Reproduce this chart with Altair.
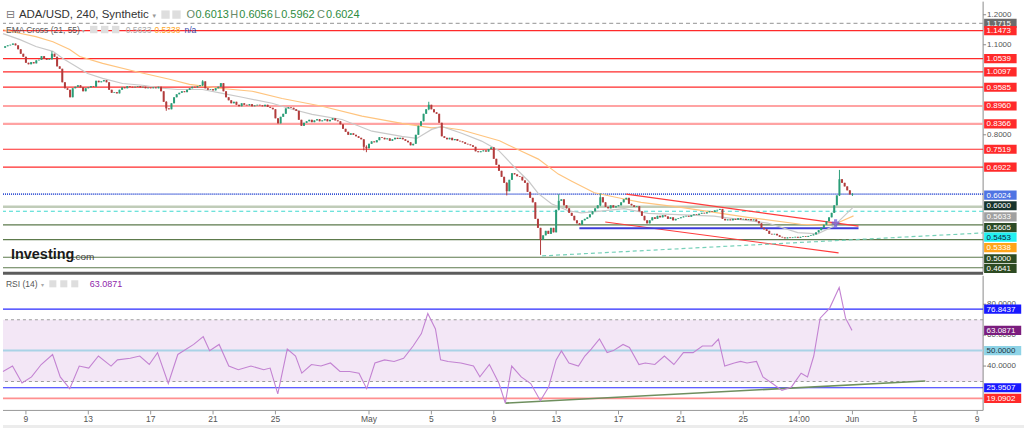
import altair as alt
import pandas as pd
import numpy as np

# ============================ DATA ============================
# ADA/USD 4-hour closes, first candle 2022-04-07 16:00, last 2022-06-01 00:00
first_open = 1.090
closes = [
    1.095, 1.098,                                   # Apr 7 (16h, 20h)
    1.100, 1.104, 1.098, 1.085, 1.070, 1.060,       # Apr 8
    1.040, 1.035, 1.042, 1.038, 1.048, 1.050,       # Apr 9
    1.062, 1.055, 1.050, 1.052, 1.070, 1.060,       # Apr 10
    1.028, 1.020, 0.975, 0.955, 0.950, 0.925,       # Apr 11
    0.955, 0.960, 0.965, 0.958, 0.945, 0.955,       # Apr 12
    0.958, 0.962, 0.960, 0.980, 0.975, 0.978,       # Apr 13
    0.982, 0.975, 0.950, 0.940, 0.942, 0.938,       # Apr 14
    0.950, 0.958, 0.955, 0.962, 0.960, 0.958,       # Apr 15
    0.960, 0.962, 0.958, 0.960, 0.955, 0.957,       # Apr 16
    0.955, 0.958, 0.955, 0.960, 0.945, 0.910,       # Apr 17
    0.888, 0.885, 0.905, 0.925, 0.935, 0.940,       # Apr 18
    0.945, 0.942, 0.950, 0.955, 0.960, 0.958,       # Apr 19
    0.962, 0.965, 0.978, 0.955, 0.950, 0.952,       # Apr 20
    0.948, 0.955, 0.960, 0.972, 0.945, 0.925,       # Apr 21
    0.915, 0.905, 0.910, 0.900, 0.895, 0.905,       # Apr 22
    0.900, 0.898, 0.902, 0.895, 0.898, 0.900,       # Apr 23
    0.898, 0.895, 0.900, 0.893, 0.890, 0.885,       # Apr 24
    0.855, 0.838, 0.860, 0.870, 0.888, 0.892,       # Apr 25
    0.890, 0.885, 0.880, 0.850, 0.830, 0.840,       # Apr 26
    0.845, 0.850, 0.842, 0.848, 0.852, 0.845,       # Apr 27
    0.848, 0.852, 0.845, 0.850, 0.855, 0.848,       # Apr 28
    0.845, 0.835, 0.820, 0.810, 0.800, 0.805,       # Apr 29
    0.800, 0.795, 0.790, 0.785, 0.760, 0.755,       # Apr 30
    0.770, 0.778, 0.775, 0.782, 0.792, 0.790,       # May 1
    0.785, 0.788, 0.780, 0.785, 0.790, 0.786,       # May 2
    0.790, 0.785, 0.780, 0.775, 0.765, 0.770,       # May 3
    0.800, 0.830, 0.845, 0.870, 0.885, 0.900,       # May 4
    0.885, 0.875, 0.870, 0.840, 0.795, 0.790,       # May 5
    0.785, 0.790, 0.782, 0.786, 0.780, 0.778,       # May 6
    0.775, 0.770, 0.768, 0.765, 0.760, 0.745,       # May 7
    0.742, 0.745, 0.748, 0.744, 0.752, 0.758,       # May 8
    0.720, 0.700, 0.680, 0.660, 0.640, 0.612,       # May 9
    0.650, 0.672, 0.668, 0.662, 0.660, 0.648,       # May 10
    0.640, 0.610, 0.590, 0.575, 0.520, 0.490,       # May 11
    0.450, 0.465, 0.480, 0.470, 0.490, 0.475,       # May 12
    0.550, 0.580, 0.585, 0.565, 0.555, 0.540,       # May 13
    0.530, 0.515, 0.505, 0.500, 0.515, 0.520,       # May 14
    0.525, 0.535, 0.545, 0.555, 0.565, 0.592,       # May 15
    0.575, 0.560, 0.555, 0.565, 0.558, 0.562,       # May 16
    0.565, 0.575, 0.585, 0.590, 0.570, 0.565,       # May 17
    0.560, 0.562, 0.545, 0.530, 0.515, 0.505,       # May 18
    0.515, 0.525, 0.520, 0.530, 0.525, 0.532,       # May 19
    0.528, 0.520, 0.525, 0.515, 0.520, 0.522,       # May 20
    0.525, 0.528, 0.530, 0.527, 0.532, 0.535,       # May 21
    0.533, 0.537, 0.540, 0.538, 0.542, 0.545,       # May 22
    0.543, 0.548, 0.550, 0.553, 0.520, 0.515,       # May 23
    0.518, 0.515, 0.520, 0.517, 0.522, 0.518,       # May 24
    0.520, 0.516, 0.519, 0.515, 0.518, 0.512,       # May 25
    0.505, 0.490, 0.485, 0.480, 0.470, 0.468,       # May 26
    0.470, 0.465, 0.460, 0.458, 0.455, 0.458,       # May 27
    0.456, 0.458, 0.460, 0.457, 0.460, 0.462,       # May 28
    0.460, 0.463, 0.465, 0.468, 0.475, 0.482,       # May 29
    0.490, 0.500, 0.512, 0.525, 0.540, 0.565,       # May 30
    0.598, 0.652, 0.640, 0.628, 0.615, 0.6013,      # May 31
    0.6024,                                         # Jun 1
]
# candles whose wicks stand out: timestamp -> (high, low)
wicks = {
    "2022-04-10 16:00": (1.078, 1.050),
    "2022-04-18 00:00": (0.912, 0.880),
    "2022-04-20 08:00": (0.982, 0.962),
    "2022-04-30 16:00": (0.785, 0.748),
    "2022-04-30 20:00": (0.765, 0.742),
    "2022-05-04 20:00": (0.910, 0.882),
    "2022-05-09 20:00": (0.642, 0.598),
    "2022-05-12 00:00": (0.490, 0.400),
    "2022-05-13 04:00": (0.602, 0.548),
    "2022-05-15 20:00": (0.605, 0.562),
    "2022-05-31 04:00": (0.683, 0.596),
    "2022-06-01 00:00": (0.6056, 0.5962),
}

# EMA lines (days since 2022-04-09 00:00, price)
ema21_t = [-1.47, -0.38, 0.64, 1.73, 2.37, 3.01, 3.96, 4.92, 6.20, 7.48, 8.76, 9.72, 11.32,
           12.60, 13.87, 15.79, 17.07, 18.35, 20.27, 22.19, 24.10, 25.06, 26.02, 26.66,
           27.94, 29.22, 30.31, 31.33, 32.23, 32.86, 33.70, 34.78, 35.61, 36.70, 38.36,
           39.90, 44.12, 47.57, 49.49, 50.77, 51.79, 53.07]
ema21_v = [1.137, 1.117, 1.094, 1.078, 1.054, 1.034, 1.004, 0.988, 0.971, 0.965, 0.955, 0.951, 0.951,
           0.938, 0.925, 0.905, 0.885, 0.868, 0.851, 0.812, 0.795, 0.788, 0.818, 0.828,
           0.805, 0.779, 0.748, 0.692, 0.646, 0.604, 0.570, 0.547, 0.540, 0.545, 0.554,
           0.538, 0.529, 0.506, 0.474, 0.470, 0.495, 0.560]
ema55_t = [-1.47, 0.64, 1.73, 2.81, 3.45, 4.92, 7.03, 9.21, 10.49, 12.40, 14.51, 16.43, 18.99,
           21.55, 24.10, 26.02, 26.66, 27.94, 30.37, 31.78, 32.86, 34.14, 34.97, 36.45,
           38.36, 39.45, 42.01, 46.29, 49.68, 51.15, 52.11, 53.07]
ema55_v = [1.150, 1.127, 1.110, 1.084, 1.061, 1.038, 1.011, 0.985, 0.968, 0.955, 0.945, 0.921, 0.895,
           0.862, 0.838, 0.823, 0.826, 0.816, 0.780, 0.745, 0.719, 0.669, 0.646, 0.607,
           0.586, 0.575, 0.558, 0.525, 0.502, 0.499, 0.508, 0.530]

# RSI (14)
rsi_t = [-1.47, -0.86, -0.25, 0.36, 0.98, 1.71, 2.20, 2.81, 3.42, 4.03, 4.65, 5.46, 5.87, 6.69,
         7.30, 7.91, 8.44, 9.13, 9.74, 10.76, 11.37, 11.78, 12.39, 13.01, 13.62, 14.43, 15.25,
         15.66, 16.15, 16.76, 17.29, 17.69, 18.31, 18.92, 19.53, 20.14, 20.75, 21.36, 21.85,
         22.38, 23.00, 23.61, 24.22, 24.83, 25.36, 25.77, 26.26, 26.59, 27.07, 27.89, 28.70,
         29.11, 29.72, 30.34, 30.74, 31.15, 31.76, 32.37, 32.99, 33.52, 34.00, 34.34, 34.82,
         35.43, 35.84, 36.25, 36.78, 37.27, 37.67, 38.29, 38.70, 39.31, 39.71, 40.33, 40.94,
         41.55, 42.16, 42.78, 43.38, 44.00, 44.41, 44.81, 45.42, 45.83, 46.24, 46.85, 47.26,
         47.87, 48.48, 49.09, 49.71, 50.12, 50.52, 50.93, 51.54, 52.15, 52.56, 52.97]
rsi_v = [36.5, 40, 29, 33, 41, 47.5, 33, 25.4, 40, 38.7, 46.5, 40, 44, 45,
         46.5, 41, 48.7, 28.7, 47.5, 54, 59, 50, 54, 40, 37.6, 40, 37.6,
         38.7, 22, 51, 46.5, 35.4, 41, 40, 42, 36.5, 36.5, 35.4, 25.4,
         42, 44, 43, 45, 53, 61, 74, 64, 44, 43, 42, 40,
         33, 41, 28.7, 16, 40, 33, 28.7, 17.6, 26.5, 44, 49.8, 42,
         40, 46.5, 51, 57.5, 48.7, 50, 54, 52, 41, 42, 41, 46.5,
         41, 48.7, 48.7, 53, 53, 57.5, 40, 42, 43, 42, 43, 33,
         28.7, 24.3, 26.5, 35.4, 33, 46.5, 71, 77.5, 90.8, 71, 63.0871]

# horizontal price levels
red_levels = [1.1473, 1.0539, 1.0097, 0.9585, 0.7519, 0.6922]
pink_levels = [0.8960, 0.8366]
grey_dashed_levels = [1.1715]
last_price_levels = [0.6024]
sage_levels = [0.5605]
cyan_levels = [0.5453]
green_levels = [0.5000, 0.4510, 0.3920, 0.3570]

# trend lines (t1, v1, t2, v2)
red_trends = [(38.49, 0.6022, 53.39, 0.4958), (37.15, 0.5095, 52.11, 0.4065)]
blue_support = [(35.49, 0.4890, 53.39, 0.4890)]
dashed_trend = [(33.10, 0.3965, 61.38, 0.4730)]
cross_point = [(51.92, 0.5060)]

# RSI levels and trend
rsi_band = [(70, 30)]
rsi_blue_levels = [76.8437, 25.9507]
rsi_mid_levels = [50.0]
rsi_red_levels = [19.0902]
rsi_trend = [(30.75, 16.0, 57.67, 30.3)]

# right-hand price tags (value, text)
price_tags = [(1.1715, "1.1715"), (1.1473, "1.1473"), (1.0539, "1.0539"), (1.0097, "1.0097"),
              (0.9585, "0.9585"), (0.8960, "0.8960"), (0.8366, "0.8366"), (0.7519, "0.7519"),
              (0.6922, "0.6922"), (0.6024, "0.6024"), (0.6000, "0.6000"), (0.5633, "0.5633"),
              (0.5605, "0.5605"), (0.5453, "0.5453"), (0.5338, "0.5338"), (0.5000, "0.5000"),
              (0.4641, "0.4641")]
rsi_tags = [(76.8437, "76.8437"), (63.0871, "63.0871"), (50.0, "50.0000"),
            (25.9507, "25.9507"), (19.0902, "19.0902")]

# axis ticks (only those not hidden behind tags)
price_ticks = [1.2, 1.1, 0.8]
rsi_ticks = [40, 60, 80]
x_ticks = [0, 4, 8, 12, 16, 22, 26, 30, 34, 38, 42, 46, 49.58333, 53, 57, 61]
x_tick_labels = ["9", "13", "17", "21", "25", "May", "5", "9", "13", "17", "21", "25",
                 "14:00", "Jun", "5", "9"]

# ============================ STYLE / LAYOUT ============================
W, H_TOP, H_RSI = 983, 271, 135
T_DOMAIN = [-1.47, 61.38]
P_DOMAIN = [0.3434, 1.2437]
R_DOMAIN = [11.29, 98.39]
FONT = "Liberation Sans"
UP, DOWN = "#2a9d77", "#b23c3c"
RED = "#ff2a2a"
AXIS_GREY = "#8a8a8a"

# tag colours: text -> (background, text colour, vertical pixel shift)
tag_style = {
    "1.1715": ("#6b6b6b", "white", 0), "1.1473": (RED, "white", 0), "1.0539": (RED, "white", 0),
    "1.0097": (RED, "white", 0), "0.9585": (RED, "white", 0), "0.8960": (RED, "white", 0),
    "0.8366": (RED, "white", 0), "0.7519": (RED, "white", 0), "0.6922": (RED, "white", 0),
    "0.6024": ("#4f74e3", "white", 1), "0.6000": ("#17332c", "white", 11),
    "0.5633": ("#a0a0a0", "white", 11), "0.5605": ("#2c4a25", "white", 21),
    "0.5453": ("#22f0f0", "#102040", 26), "0.5338": ("#ffa51a", "white", 33),
    "0.5000": ("#2d4b22", "white", 34), "0.4641": ("#2d4b22", "white", 33),
    "76.8437": ("#1818ff", "white", 0), "63.0871": ("#7b1d7e", "white", 0),
    "50.0000": ("#8ed3e6", "#223344", 0), "25.9507": ("#1818ff", "white", 0),
    "19.0902": (RED, "white", 0),
}

xs = alt.Scale(domain=T_DOMAIN, nice=False, zero=False)
ps = alt.Scale(domain=P_DOMAIN, nice=False, zero=False)
rs = alt.Scale(domain=R_DOMAIN, nice=False, zero=False)
ONE = pd.DataFrame({"a": [0]})


def hlines(values, color, width=1.0, dash=None, yscale=ps):
    kw = dict(color=color, strokeWidth=width)
    if dash:
        kw["strokeDash"] = dash
    d = pd.DataFrame({"v": values})
    return alt.Chart(d).mark_rule(**kw).encode(y=alt.Y("v:Q", scale=yscale, axis=None))


def segs(rows, color, width=1.0, dash=None, yscale=ps):
    kw = dict(color=color, strokeWidth=width)
    if dash:
        kw["strokeDash"] = dash
    d = pd.DataFrame(rows, columns=["t1", "v1", "t2", "v2"])
    return alt.Chart(d).mark_rule(**kw).encode(
        x=alt.X("t1:Q", scale=xs, axis=None), x2="t2:Q",
        y=alt.Y("v1:Q", scale=yscale, axis=None), y2="v2:Q")


def tag(v, s, yscale):
    bg, fg, dy = tag_style[s]
    w = 5 + 4.6 * len(s)
    d = pd.DataFrame({"v": [v], "s": [s]})
    rect = alt.Chart(d).mark_rect(color=bg, yOffset=dy - 4.6, y2Offset=dy + 4.6).encode(
        x=alt.value(W + 1), x2=alt.value(W + 1 + w),
        y=alt.Y("v:Q", scale=yscale, axis=None), y2="v:Q")
    txt = alt.Chart(d).mark_text(color=fg, align="left", baseline="middle", dy=dy + 0.5,
                                 fontSize=8, font=FONT).encode(
        x=alt.value(W + 3.5), y=alt.Y("v:Q", scale=yscale, axis=None), text="s:N")
    return [rect, txt]


def note(s, px, py, size, color, weight="normal", font=FONT):
    d = pd.DataFrame({"s": [s]})
    return alt.Chart(d).mark_text(align="left", baseline="middle", fontSize=size, color=color,
                                  fontWeight=weight, font=font).encode(
        x=alt.value(px), y=alt.value(py), text="s:N")


def icons(pxs, py, size=60):
    return [alt.Chart(ONE).mark_point(shape="square", filled=True, size=size, color="#dedede",
                                      opacity=1).encode(x=alt.value(px), y=alt.value(py))
            for px in pxs]


def right_axis(ticks, yscale, height):
    d = pd.DataFrame({"v": ticks, "s": ["%.4f" % v for v in ticks]})
    domain = alt.Chart(ONE).mark_rule(color=AXIS_GREY, strokeWidth=1).encode(
        x=alt.value(W), y=alt.value(0), y2=alt.value(height))
    tk = alt.Chart(d).mark_rule(color=AXIS_GREY).encode(
        x=alt.value(W), x2=alt.value(W + 3), y=alt.Y("v:Q", scale=yscale, axis=None))
    lb = alt.Chart(d).mark_text(align="left", baseline="middle", fontSize=8, color="#555",
                                font=FONT).encode(
        x=alt.value(W + 4), y=alt.Y("v:Q", scale=yscale, axis=None), text="s:N")
    return [domain, tk, lb]


# ---- candles ----
ts = pd.date_range("2022-04-07 16:00", periods=len(closes), freq="4h")
opens = [first_open] + closes[:-1]
highs = [max(o, c) for o, c in zip(opens, closes)]
lows = [min(o, c) for o, c in zip(opens, closes)]
for k, (h, l) in wicks.items():
    i = ts.get_loc(pd.Timestamp(k))
    highs[i], lows[i] = h, l
cdf = pd.DataFrame({
    "t": ((ts - pd.Timestamp("2022-04-09")) / pd.Timedelta(days=1)).values,
    "o": opens, "c": closes, "h": highs, "l": lows})
cdf["dir"] = np.where(cdf["c"] >= cdf["o"], "up", "down")

cx = alt.X("t:Q", scale=xs, axis=None)
ccol = alt.Color("dir:N", scale=alt.Scale(domain=["up", "down"], range=[UP, DOWN]), legend=None)
wick_layer = alt.Chart(cdf).mark_rule(strokeWidth=1).encode(
    x=cx, y=alt.Y("l:Q", scale=ps, axis=None), y2="h:Q", color=ccol)
body_layer = alt.Chart(cdf).mark_rule(strokeWidth=2).encode(
    x=cx, y=alt.Y("o:Q", scale=ps, axis=None), y2="c:Q", color=ccol)

ema21 = alt.Chart(pd.DataFrame({"t": ema21_t, "v": ema21_v})).mark_line(
    color="#c9c9c9", strokeWidth=1.2).encode(x=cx, y=alt.Y("v:Q", scale=ps, axis=None))
ema55 = alt.Chart(pd.DataFrame({"t": ema55_t, "v": ema55_v})).mark_line(
    color="#ffc47e", strokeWidth=1.2).encode(x=cx, y=alt.Y("v:Q", scale=ps, axis=None))

cross = alt.Chart(pd.DataFrame(cross_point, columns=["t", "v"])).mark_point(
    shape="cross", filled=True, size=60, color="#6a50d8").encode(
    x=cx, y=alt.Y("v:Q", scale=ps, axis=None))

top_layers = right_axis(price_ticks, ps, H_TOP) + [
    hlines(red_levels, RED, 1.2),
    hlines(pink_levels, "#ffa3a3", 2.2),
    hlines(grey_dashed_levels, "#a8a8a8", 1.2, [4, 3]),
    hlines(sage_levels, "#c0ccb8", 2.5),
    hlines(cyan_levels, "#3fd9d0", 1.2, [4, 3]),
    hlines(green_levels, "#5d7a4c", 1.2),
    hlines(last_price_levels, "#3552d4", 1.6, [1, 1]),
    segs(red_trends, "#ff3b3b", 1.1),
    segs(blue_support, "#3c3cd8", 2.0),
    segs(dashed_trend, "#76d0b8", 1.2, [4, 3]),
    ema55, ema21,
    wick_layer, body_layer,
    cross,
    note("⊟", 3, 13, 11, "#777", font="DejaVu Sans"),
    note("ADA/USD, 240, Synthetic", 16, 13, 11.5, "#333"),
    note("▾", 150, 14, 7, "#999", font="DejaVu Sans"),
    note("O", 184, 13, 11, "#6a8a6a"), note("0.6013", 193, 13, 11, "#2e8b3e"),
    note("H", 228, 13, 11, "#6a8a6a"), note("0.6056", 237, 13, 11, "#2e8b3e"),
    note("L", 272, 13, 11, "#6a8a6a"), note("0.5962", 279, 13, 11, "#2e8b3e"),
    note("C", 315, 13, 11, "#6a8a6a"), note("0.6024", 324, 13, 11, "#2e8b3e"),
    note("EMA Cross (21, 55)", 3, 28, 8.5, "#555"),
    note("▾", 79, 29, 6, "#aaa", font="DejaVu Sans"),
    note("0.5633", 123, 28, 8.5, "#aaa"),
    note("0.5338", 152, 28, 8.5, "#ffa726"),
    note("n/a", 182, 28, 8.5, "#3949ab"),
    note("Investing", 8, 254, 14.5, "#1a1a1a", weight="bold"),
    note(".com", 70, 256, 10, "#444"),
] + icons([163, 174], 13, 70) + icons([91, 102, 113], 28, 55)
for v, s in price_tags:
    top_layers += tag(v, s, ps)

top = alt.layer(*top_layers).properties(width=W, height=H_TOP)

# ---- RSI panel ----
rx = alt.X("t:Q", scale=xs, axis=None)
xdf = pd.DataFrame({"t": x_ticks, "s": x_tick_labels})
x_domain = alt.Chart(ONE).mark_rule(color="#999", strokeWidth=1).encode(
    x=alt.value(0), x2=alt.value(W), y=alt.value(H_RSI), y2=alt.value(H_RSI))
x_tickmarks = alt.Chart(xdf).mark_rule(color="#999").encode(
    x=rx, y=alt.value(H_RSI), y2=alt.value(H_RSI + 4))
x_labels = alt.Chart(xdf).mark_text(baseline="middle", align="center", fontSize=8.5,
                                    color="#555", font=FONT).encode(
    x=rx, y=alt.value(H_RSI + 9), text="s:N")
page_band = alt.Chart(ONE).mark_rect(color="#ececec").encode(
    x=alt.value(0), x2=alt.value(1024), y=alt.value(H_RSI + 14.5), y2=alt.value(H_RSI + 19))

band = alt.Chart(pd.DataFrame(rsi_band, columns=["a", "b"])).mark_rect(color="#f3e7f6").encode(
    x=alt.value(0), x2=alt.value(W), y=alt.Y("a:Q", scale=rs, axis=None), y2="b:Q")
band_edges = hlines([rsi_band[0][0], rsi_band[0][1]], "#9d9d9d", 1.1, [3, 3], rs)
rsi_line = alt.Chart(pd.DataFrame({"t": rsi_t, "v": rsi_v})).mark_line(
    color="#c383d2", strokeWidth=1.1).encode(x=rx, y=alt.Y("v:Q", scale=rs, axis=None))
separator = alt.Chart(ONE).mark_rule(color="#5c5c5c", strokeWidth=3).encode(
    x=alt.value(0), x2=alt.value(W), y=alt.value(-2.5), y2=alt.value(-2.5))

bottom_layers = [band, band_edges] + right_axis(rsi_ticks, rs, H_RSI) + [
    hlines(rsi_mid_levels, "#a9d3e6", 2.0, None, rs),
    hlines(rsi_blue_levels, "#2a2aff", 1.2, None, rs),
    hlines(rsi_red_levels, "#ff9090", 2.0, None, rs),
    segs(rsi_trend, "#6e8f5e", 1.6, None, rs),
    rsi_line,
    separator,
    x_domain, x_tickmarks, x_labels, page_band,
    note("RSI (14)", 3, 8, 8.5, "#555"),
    note("▾", 38, 9, 6, "#aaa", font="DejaVu Sans"),
    note("63.0871", 87, 8, 9, "#8e24aa"),
] + icons([50, 61, 72], 8, 50)
for v, s in rsi_tags:
    bottom_layers += tag(v, s, rs)

bottom = alt.layer(*bottom_layers).properties(width=W, height=H_RSI)

chart = alt.vconcat(top, bottom, spacing=4, bounds="flush").properties(
    padding=0, background="white").configure_view(stroke=None)

chart.save("out.html", embed_options={"renderer": "svg", "actions": False})
